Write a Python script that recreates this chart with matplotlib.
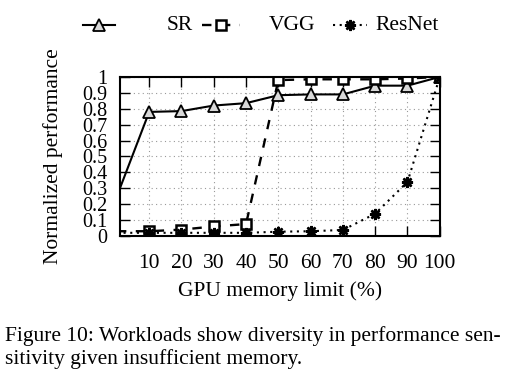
import matplotlib
matplotlib.use('Agg')
import matplotlib.pyplot as plt
from matplotlib.lines import Line2D

plt.rcParams['font.family'] = ['Liberation Serif', 'DejaVu Serif']

# data
mem_limit = [0, 10, 20, 30, 40, 50, 60, 70, 80, 90, 100]
sr = [0.25, 0.78, 0.785, 0.82, 0.835, 0.885, 0.89, 0.89, 0.945, 0.945, 1.0]
vgg = [0.03, 0.03, 0.04, 0.06, 0.075, 0.98, 0.985, 0.985, 0.985, 0.99, 1.0]
resnet = [0.02, 0.02, 0.02, 0.02, 0.02, 0.027, 0.03, 0.038, 0.14, 0.34, 1.0]
series = ['SR', 'VGG', 'ResNet']
xticks = [10, 20, 30, 40, 50, 60, 70, 80, 90, 100]
yticks = [0, 0.1, 0.2, 0.3, 0.4, 0.5, 0.6, 0.7, 0.8, 0.9, 1]

fs = 15.5
fig = plt.figure(figsize=(5.09, 3.77), dpi=100)
ax = fig.add_axes([0.236, 0.374, 0.628, 0.422])

styles = [
    dict(ls='-', marker='^', mfc='#d8d8d8', mec='black', ms=8, mew=1.3, lw=1.5),
    dict(ls=(0, (4, 4)), marker='s', mfc='white', mec='black', ms=7.5, mew=1.8, lw=1.7),
    dict(ls=(0, (1, 2.2)), marker=(8, 2, 0), mec='black', ms=8, mew=1.8, lw=1.5),
]
for vals, st in zip([sr, vgg, resnet], styles):
    # first point only feeds the line into the left edge, no marker there
    ax.plot(mem_limit, vals, color='black', markevery=slice(1, None), **st)

ax.set_xlim(1, 100)
ax.set_ylim(0, 1)
ax.set_xticks(xticks)
ax.set_yticks(yticks)
ax.set_yticklabels([f'{v:g}' for v in yticks])
ax.tick_params(direction='in', top=True, right=True, length=7, width=1,
               labelsize=fs)
ax.tick_params(axis='x', pad=13)
ax.tick_params(axis='y', pad=9, labelsize=14.5)
ax.grid(True, ls=(0, (1, 3)), color='#999999', lw=0.8)
for s in ax.spines.values():
    s.set_linewidth(1.5)

ax.set_xlabel('GPU memory limit (%)', fontsize=fs, labelpad=6)
ax.set_ylabel('Normalized performance', fontsize=fs, labelpad=14)

# legend in the gnuplot key style
key_y = 1 - 25 / 377
handles = [(83, 115, 193), (202, 240, 315), (333, 367, 439)]
for (x0, x1, xt), name, st in zip(handles, series, styles):
    xs = [x0 / 509, (x0 + x1) / 2 / 509, x1 / 509]
    ln = Line2D(xs, [key_y] * 3, color='black', markevery=[1],
                transform=fig.transFigure, **st)
    fig.add_artist(ln)
    fig.text(xt / 509, key_y, name, ha='right', va='center', fontsize=fs)

fig.text(0.01, 1 - 336 / 377,
         'Figure 10: Workloads show diversity in performance sen-',
         fontsize=fs, va='center')
fig.text(0.01, 1 - 359 / 377, 'sitivity given insufficient memory.',
         fontsize=fs, va='center')

fig.savefig('out.png', dpi=100)
